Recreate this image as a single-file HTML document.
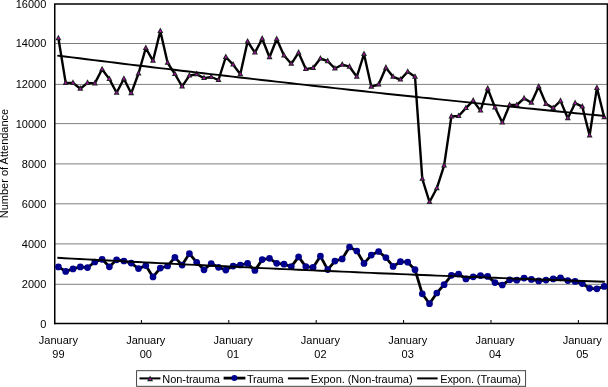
<!DOCTYPE html>
<html><head><meta charset="utf-8"><title>Attendance chart</title>
<style>html,body{margin:0;padding:0;background:#fff}svg{display:block}</style></head>
<body>
<svg width="608" height="387" viewBox="0 0 608 387" font-family="Liberation Sans, Arial, Helvetica, sans-serif" font-size="11" fill="#000">
<rect width="608" height="387" fill="#fff"/>
<line x1="55" x2="607" y1="43.50" y2="43.50" stroke="#808080" stroke-width="1"/>
<line x1="55" x2="607" y1="84.40" y2="84.40" stroke="#808080" stroke-width="1"/>
<line x1="55" x2="607" y1="123.60" y2="123.60" stroke="#808080" stroke-width="1"/>
<line x1="55" x2="607" y1="163.90" y2="163.90" stroke="#808080" stroke-width="1"/>
<line x1="55" x2="607" y1="203.80" y2="203.80" stroke="#808080" stroke-width="1"/>
<line x1="55" x2="607" y1="243.90" y2="243.90" stroke="#808080" stroke-width="1"/>
<line x1="55" x2="607" y1="284.30" y2="284.30" stroke="#808080" stroke-width="1"/>
<path d="M54.75,324.3V4H607.4V324.3" fill="none" stroke="#000" stroke-width="1.5"/>
<line x1="54" x2="608" y1="323.5" y2="323.5" stroke="#000" stroke-width="1.7"/>
<line x1="141.4" x2="141.4" y1="320" y2="323.5" stroke="#000" stroke-width="1"/>
<line x1="228.8" x2="228.8" y1="320" y2="323.5" stroke="#000" stroke-width="1"/>
<line x1="316.2" x2="316.2" y1="320" y2="323.5" stroke="#000" stroke-width="1"/>
<line x1="403.6" x2="403.6" y1="320" y2="323.5" stroke="#000" stroke-width="1"/>
<line x1="491.0" x2="491.0" y1="320" y2="323.5" stroke="#000" stroke-width="1"/>
<line x1="578.4" x2="578.4" y1="320" y2="323.5" stroke="#000" stroke-width="1"/>
<text x="46.3" y="7.9" text-anchor="end">16000</text>
<text x="46.3" y="47.4" text-anchor="end">14000</text>
<text x="46.3" y="88.3" text-anchor="end">12000</text>
<text x="46.3" y="127.5" text-anchor="end">10000</text>
<text x="46.3" y="167.8" text-anchor="end">8000</text>
<text x="46.3" y="207.7" text-anchor="end">6000</text>
<text x="46.3" y="247.8" text-anchor="end">4000</text>
<text x="46.3" y="288.2" text-anchor="end">2000</text>
<text x="46.3" y="327.5" text-anchor="end">0</text>
<text x="58.4" y="343.6" text-anchor="middle">January</text>
<text x="58.4" y="357.7" text-anchor="middle">99</text>
<text x="145.8" y="343.6" text-anchor="middle">January</text>
<text x="145.8" y="357.7" text-anchor="middle">00</text>
<text x="233.1" y="343.6" text-anchor="middle">January</text>
<text x="233.1" y="357.7" text-anchor="middle">01</text>
<text x="320.4" y="343.6" text-anchor="middle">January</text>
<text x="320.4" y="357.7" text-anchor="middle">02</text>
<text x="407.7" y="343.6" text-anchor="middle">January</text>
<text x="407.7" y="357.7" text-anchor="middle">03</text>
<text x="495.0" y="343.6" text-anchor="middle">January</text>
<text x="495.0" y="357.7" text-anchor="middle">04</text>
<text x="582.3" y="343.6" text-anchor="middle">January</text>
<text x="582.3" y="357.7" text-anchor="middle">05</text>
<text transform="translate(8.1,163.5) rotate(-90)" text-anchor="middle">Number of Attendance</text>
<polyline points="58.4,38.3 65.7,82.9 73.0,82.9 80.3,88.7 87.5,82.9 94.8,83.4 102.1,69.3 109.4,79.1 116.6,92.8 123.9,78.8 131.2,93.3 138.5,73.5 145.8,48.0 153.0,60.8 160.3,31.1 167.6,62.8 174.9,74.0 182.1,86.4 189.4,75.6 196.7,74.2 204.0,78.1 211.2,77.0 218.5,80.0 225.8,57.0 233.1,64.6 240.3,74.2 247.6,41.5 254.9,52.6 262.2,38.7 269.5,57.2 276.7,39.0 284.0,55.5 291.3,63.8 298.6,52.7 305.8,69.1 313.1,67.9 320.4,58.5 327.7,61.2 334.9,68.5 342.2,64.7 349.5,66.7 356.8,76.8 364.0,54.0 371.3,86.7 378.6,84.5 385.9,67.7 393.1,76.8 400.4,79.6 407.7,71.8 415.0,76.8 422.3,178.8 429.5,202.0 436.8,188.3 444.1,165.6 451.4,116.4 458.6,116.0 465.9,108.1 473.2,100.7 480.5,110.6 487.7,88.6 495.0,107.5 502.3,122.6 509.6,105.0 516.8,105.0 524.1,98.4 531.4,102.7 538.7,86.5 546.0,103.9 553.2,108.0 560.5,100.9 567.8,118.2 575.1,103.2 582.3,106.6 589.6,135.5 596.9,87.9 604.2,117.3" fill="none" stroke="#000" stroke-width="2.4" stroke-linejoin="round"/>
<path d="M58.4,34.7L61.4,40.3H55.4Z" fill="#222"/><path d="M58.4,37.0L59.4,39.1H57.4Z" fill="#e000e0"/>
<path d="M65.7,79.3L68.7,84.9H62.7Z" fill="#222"/><path d="M65.7,81.6L66.7,83.7H64.7Z" fill="#e000e0"/>
<path d="M73.0,79.3L76.0,84.9H70.0Z" fill="#222"/><path d="M73.0,81.6L74.0,83.7H72.0Z" fill="#e000e0"/>
<path d="M80.3,85.1L83.3,90.7H77.3Z" fill="#222"/><path d="M80.3,87.4L81.3,89.5H79.3Z" fill="#e000e0"/>
<path d="M87.5,79.3L90.5,84.9H84.5Z" fill="#222"/><path d="M87.5,81.6L88.5,83.7H86.5Z" fill="#e000e0"/>
<path d="M94.8,79.8L97.8,85.4H91.8Z" fill="#222"/><path d="M94.8,82.1L95.8,84.2H93.8Z" fill="#e000e0"/>
<path d="M102.1,65.7L105.1,71.3H99.1Z" fill="#222"/><path d="M102.1,68.0L103.1,70.1H101.1Z" fill="#e000e0"/>
<path d="M109.4,75.5L112.4,81.1H106.4Z" fill="#222"/><path d="M109.4,77.8L110.4,79.9H108.4Z" fill="#e000e0"/>
<path d="M116.6,89.2L119.6,94.8H113.6Z" fill="#222"/><path d="M116.6,91.5L117.6,93.6H115.6Z" fill="#e000e0"/>
<path d="M123.9,75.2L126.9,80.8H120.9Z" fill="#222"/><path d="M123.9,77.5L124.9,79.6H122.9Z" fill="#e000e0"/>
<path d="M131.2,89.7L134.2,95.3H128.2Z" fill="#222"/><path d="M131.2,92.0L132.2,94.1H130.2Z" fill="#e000e0"/>
<path d="M138.5,69.9L141.5,75.5H135.5Z" fill="#222"/><path d="M138.5,72.2L139.5,74.3H137.5Z" fill="#e000e0"/>
<path d="M145.8,44.4L148.8,50.0H142.8Z" fill="#222"/><path d="M145.8,46.7L146.8,48.8H144.8Z" fill="#e000e0"/>
<path d="M153.0,57.2L156.0,62.8H150.0Z" fill="#222"/><path d="M153.0,59.5L154.0,61.6H152.0Z" fill="#e000e0"/>
<path d="M160.3,27.5L163.3,33.1H157.3Z" fill="#222"/><path d="M160.3,29.8L161.3,31.9H159.3Z" fill="#e000e0"/>
<path d="M167.6,59.2L170.6,64.8H164.6Z" fill="#222"/><path d="M167.6,61.5L168.6,63.6H166.6Z" fill="#e000e0"/>
<path d="M174.9,70.4L177.9,76.0H171.9Z" fill="#222"/><path d="M174.9,72.7L175.9,74.8H173.9Z" fill="#e000e0"/>
<path d="M182.1,82.8L185.1,88.4H179.1Z" fill="#222"/><path d="M182.1,85.1L183.1,87.2H181.1Z" fill="#e000e0"/>
<path d="M189.4,72.0L192.4,77.6H186.4Z" fill="#222"/><path d="M189.4,74.3L190.4,76.4H188.4Z" fill="#e000e0"/>
<path d="M196.7,70.6L199.7,76.2H193.7Z" fill="#222"/><path d="M196.7,72.9L197.7,75.0H195.7Z" fill="#e000e0"/>
<path d="M204.0,74.5L207.0,80.1H201.0Z" fill="#222"/><path d="M204.0,76.8L205.0,78.9H203.0Z" fill="#e000e0"/>
<path d="M211.2,73.4L214.2,79.0H208.2Z" fill="#222"/><path d="M211.2,75.7L212.2,77.8H210.2Z" fill="#e000e0"/>
<path d="M218.5,76.4L221.5,82.0H215.5Z" fill="#222"/><path d="M218.5,78.7L219.5,80.8H217.5Z" fill="#e000e0"/>
<path d="M225.8,53.4L228.8,59.0H222.8Z" fill="#222"/><path d="M225.8,55.7L226.8,57.8H224.8Z" fill="#e000e0"/>
<path d="M233.1,61.0L236.1,66.6H230.1Z" fill="#222"/><path d="M233.1,63.3L234.1,65.4H232.1Z" fill="#e000e0"/>
<path d="M240.3,70.6L243.3,76.2H237.3Z" fill="#222"/><path d="M240.3,72.9L241.3,75.0H239.3Z" fill="#e000e0"/>
<path d="M247.6,37.9L250.6,43.5H244.6Z" fill="#222"/><path d="M247.6,40.2L248.6,42.3H246.6Z" fill="#e000e0"/>
<path d="M254.9,49.0L257.9,54.6H251.9Z" fill="#222"/><path d="M254.9,51.3L255.9,53.4H253.9Z" fill="#e000e0"/>
<path d="M262.2,35.1L265.2,40.7H259.2Z" fill="#222"/><path d="M262.2,37.4L263.2,39.5H261.2Z" fill="#e000e0"/>
<path d="M269.5,53.6L272.5,59.2H266.5Z" fill="#222"/><path d="M269.5,55.9L270.5,58.0H268.5Z" fill="#e000e0"/>
<path d="M276.7,35.4L279.7,41.0H273.7Z" fill="#222"/><path d="M276.7,37.7L277.7,39.8H275.7Z" fill="#e000e0"/>
<path d="M284.0,51.9L287.0,57.5H281.0Z" fill="#222"/><path d="M284.0,54.2L285.0,56.3H283.0Z" fill="#e000e0"/>
<path d="M291.3,60.2L294.3,65.8H288.3Z" fill="#222"/><path d="M291.3,62.5L292.3,64.6H290.3Z" fill="#e000e0"/>
<path d="M298.6,49.1L301.6,54.7H295.6Z" fill="#222"/><path d="M298.6,51.4L299.6,53.5H297.6Z" fill="#e000e0"/>
<path d="M305.8,65.5L308.8,71.1H302.8Z" fill="#222"/><path d="M305.8,67.8L306.8,69.9H304.8Z" fill="#e000e0"/>
<path d="M313.1,64.3L316.1,69.9H310.1Z" fill="#222"/><path d="M313.1,66.6L314.1,68.7H312.1Z" fill="#e000e0"/>
<path d="M320.4,54.9L323.4,60.5H317.4Z" fill="#222"/><path d="M320.4,57.2L321.4,59.3H319.4Z" fill="#e000e0"/>
<path d="M327.7,57.6L330.7,63.2H324.7Z" fill="#222"/><path d="M327.7,59.9L328.7,62.0H326.7Z" fill="#e000e0"/>
<path d="M334.9,64.9L337.9,70.5H331.9Z" fill="#222"/><path d="M334.9,67.2L335.9,69.3H333.9Z" fill="#e000e0"/>
<path d="M342.2,61.1L345.2,66.7H339.2Z" fill="#222"/><path d="M342.2,63.4L343.2,65.5H341.2Z" fill="#e000e0"/>
<path d="M349.5,63.1L352.5,68.7H346.5Z" fill="#222"/><path d="M349.5,65.4L350.5,67.5H348.5Z" fill="#e000e0"/>
<path d="M356.8,73.2L359.8,78.8H353.8Z" fill="#222"/><path d="M356.8,75.5L357.8,77.6H355.8Z" fill="#e000e0"/>
<path d="M364.0,50.4L367.0,56.0H361.0Z" fill="#222"/><path d="M364.0,52.7L365.0,54.8H363.0Z" fill="#e000e0"/>
<path d="M371.3,83.1L374.3,88.7H368.3Z" fill="#222"/><path d="M371.3,85.4L372.3,87.5H370.3Z" fill="#e000e0"/>
<path d="M378.6,80.9L381.6,86.5H375.6Z" fill="#222"/><path d="M378.6,83.2L379.6,85.3H377.6Z" fill="#e000e0"/>
<path d="M385.9,64.1L388.9,69.7H382.9Z" fill="#222"/><path d="M385.9,66.4L386.9,68.5H384.9Z" fill="#e000e0"/>
<path d="M393.1,73.2L396.1,78.8H390.1Z" fill="#222"/><path d="M393.1,75.5L394.1,77.6H392.1Z" fill="#e000e0"/>
<path d="M400.4,76.0L403.4,81.6H397.4Z" fill="#222"/><path d="M400.4,78.3L401.4,80.4H399.4Z" fill="#e000e0"/>
<path d="M407.7,68.2L410.7,73.8H404.7Z" fill="#222"/><path d="M407.7,70.5L408.7,72.6H406.7Z" fill="#e000e0"/>
<path d="M415.0,73.2L418.0,78.8H412.0Z" fill="#222"/><path d="M415.0,75.5L416.0,77.6H414.0Z" fill="#e000e0"/>
<path d="M422.3,175.2L425.3,180.8H419.3Z" fill="#222"/><path d="M422.3,177.5L423.3,179.6H421.3Z" fill="#e000e0"/>
<path d="M429.5,198.4L432.5,204.0H426.5Z" fill="#222"/><path d="M429.5,200.7L430.5,202.8H428.5Z" fill="#e000e0"/>
<path d="M436.8,184.7L439.8,190.3H433.8Z" fill="#222"/><path d="M436.8,187.0L437.8,189.1H435.8Z" fill="#e000e0"/>
<path d="M444.1,162.0L447.1,167.6H441.1Z" fill="#222"/><path d="M444.1,164.3L445.1,166.4H443.1Z" fill="#e000e0"/>
<path d="M451.4,112.8L454.4,118.4H448.4Z" fill="#222"/><path d="M451.4,115.1L452.4,117.2H450.4Z" fill="#e000e0"/>
<path d="M458.6,112.4L461.6,118.0H455.6Z" fill="#222"/><path d="M458.6,114.7L459.6,116.8H457.6Z" fill="#e000e0"/>
<path d="M465.9,104.5L468.9,110.1H462.9Z" fill="#222"/><path d="M465.9,106.8L466.9,108.9H464.9Z" fill="#e000e0"/>
<path d="M473.2,97.1L476.2,102.7H470.2Z" fill="#222"/><path d="M473.2,99.4L474.2,101.5H472.2Z" fill="#e000e0"/>
<path d="M480.5,107.0L483.5,112.6H477.5Z" fill="#222"/><path d="M480.5,109.3L481.5,111.4H479.5Z" fill="#e000e0"/>
<path d="M487.7,85.0L490.7,90.6H484.7Z" fill="#222"/><path d="M487.7,87.3L488.7,89.4H486.7Z" fill="#e000e0"/>
<path d="M495.0,103.9L498.0,109.5H492.0Z" fill="#222"/><path d="M495.0,106.2L496.0,108.3H494.0Z" fill="#e000e0"/>
<path d="M502.3,119.0L505.3,124.6H499.3Z" fill="#222"/><path d="M502.3,121.3L503.3,123.4H501.3Z" fill="#e000e0"/>
<path d="M509.6,101.4L512.6,107.0H506.6Z" fill="#222"/><path d="M509.6,103.7L510.6,105.8H508.6Z" fill="#e000e0"/>
<path d="M516.8,101.4L519.8,107.0H513.8Z" fill="#222"/><path d="M516.8,103.7L517.8,105.8H515.8Z" fill="#e000e0"/>
<path d="M524.1,94.8L527.1,100.4H521.1Z" fill="#222"/><path d="M524.1,97.1L525.1,99.2H523.1Z" fill="#e000e0"/>
<path d="M531.4,99.1L534.4,104.7H528.4Z" fill="#222"/><path d="M531.4,101.4L532.4,103.5H530.4Z" fill="#e000e0"/>
<path d="M538.7,82.9L541.7,88.5H535.7Z" fill="#222"/><path d="M538.7,85.2L539.7,87.3H537.7Z" fill="#e000e0"/>
<path d="M546.0,100.3L549.0,105.9H543.0Z" fill="#222"/><path d="M546.0,102.6L547.0,104.7H545.0Z" fill="#e000e0"/>
<path d="M553.2,104.4L556.2,110.0H550.2Z" fill="#222"/><path d="M553.2,106.7L554.2,108.8H552.2Z" fill="#e000e0"/>
<path d="M560.5,97.3L563.5,102.9H557.5Z" fill="#222"/><path d="M560.5,99.6L561.5,101.7H559.5Z" fill="#e000e0"/>
<path d="M567.8,114.6L570.8,120.2H564.8Z" fill="#222"/><path d="M567.8,116.9L568.8,119.0H566.8Z" fill="#e000e0"/>
<path d="M575.1,99.6L578.1,105.2H572.1Z" fill="#222"/><path d="M575.1,101.9L576.1,104.0H574.1Z" fill="#e000e0"/>
<path d="M582.3,103.0L585.3,108.6H579.3Z" fill="#222"/><path d="M582.3,105.3L583.3,107.4H581.3Z" fill="#e000e0"/>
<path d="M589.6,131.9L592.6,137.5H586.6Z" fill="#222"/><path d="M589.6,134.2L590.6,136.3H588.6Z" fill="#e000e0"/>
<path d="M596.9,84.3L599.9,89.9H593.9Z" fill="#222"/><path d="M596.9,86.6L597.9,88.7H595.9Z" fill="#e000e0"/>
<path d="M604.2,113.7L607.2,119.3H601.2Z" fill="#222"/><path d="M604.2,116.0L605.2,118.1H603.2Z" fill="#e000e0"/>
<polyline points="58.4,266.9 65.7,271.4 73.0,268.9 80.3,266.9 87.5,267.6 94.8,262.0 102.1,259.3 109.4,266.8 116.6,259.8 123.9,261.0 131.2,263.1 138.5,268.6 145.8,265.6 153.0,276.9 160.3,268.1 167.6,266.0 174.9,257.4 182.1,265.1 189.4,253.6 196.7,262.3 204.0,269.8 211.2,263.5 218.5,267.3 225.8,270.1 233.1,266.1 240.3,265.0 247.6,263.4 254.9,270.4 262.2,259.6 269.5,258.3 276.7,263.3 284.0,264.2 291.3,266.6 298.6,256.8 305.8,266.6 313.1,267.4 320.4,256.2 327.7,269.6 334.9,261.1 342.2,258.9 349.5,247.0 356.8,251.0 364.0,263.4 371.3,255.1 378.6,251.5 385.9,257.6 393.1,266.4 400.4,261.7 407.7,262.2 415.0,269.7 422.3,293.8 429.5,303.7 436.8,293.0 444.1,284.7 451.4,275.3 458.6,274.0 465.9,278.9 473.2,276.8 480.5,275.6 487.7,276.4 495.0,282.6 502.3,285.0 509.6,279.8 516.8,280.2 524.1,278.1 531.4,279.4 538.7,280.9 546.0,280.1 553.2,278.9 560.5,277.8 567.8,280.6 575.1,281.4 582.3,283.6 589.6,288.3 596.9,288.8 604.2,286.4" fill="none" stroke="#000" stroke-width="2.8" stroke-linejoin="round"/>
<circle cx="58.4" cy="266.9" r="3.35" fill="#00008c"/>
<circle cx="65.7" cy="271.4" r="3.35" fill="#00008c"/>
<circle cx="73.0" cy="268.9" r="3.35" fill="#00008c"/>
<circle cx="80.3" cy="266.9" r="3.35" fill="#00008c"/>
<circle cx="87.5" cy="267.6" r="3.35" fill="#00008c"/>
<circle cx="94.8" cy="262.0" r="3.35" fill="#00008c"/>
<circle cx="102.1" cy="259.3" r="3.35" fill="#00008c"/>
<circle cx="109.4" cy="266.8" r="3.35" fill="#00008c"/>
<circle cx="116.6" cy="259.8" r="3.35" fill="#00008c"/>
<circle cx="123.9" cy="261.0" r="3.35" fill="#00008c"/>
<circle cx="131.2" cy="263.1" r="3.35" fill="#00008c"/>
<circle cx="138.5" cy="268.6" r="3.35" fill="#00008c"/>
<circle cx="145.8" cy="265.6" r="3.35" fill="#00008c"/>
<circle cx="153.0" cy="276.9" r="3.35" fill="#00008c"/>
<circle cx="160.3" cy="268.1" r="3.35" fill="#00008c"/>
<circle cx="167.6" cy="266.0" r="3.35" fill="#00008c"/>
<circle cx="174.9" cy="257.4" r="3.35" fill="#00008c"/>
<circle cx="182.1" cy="265.1" r="3.35" fill="#00008c"/>
<circle cx="189.4" cy="253.6" r="3.35" fill="#00008c"/>
<circle cx="196.7" cy="262.3" r="3.35" fill="#00008c"/>
<circle cx="204.0" cy="269.8" r="3.35" fill="#00008c"/>
<circle cx="211.2" cy="263.5" r="3.35" fill="#00008c"/>
<circle cx="218.5" cy="267.3" r="3.35" fill="#00008c"/>
<circle cx="225.8" cy="270.1" r="3.35" fill="#00008c"/>
<circle cx="233.1" cy="266.1" r="3.35" fill="#00008c"/>
<circle cx="240.3" cy="265.0" r="3.35" fill="#00008c"/>
<circle cx="247.6" cy="263.4" r="3.35" fill="#00008c"/>
<circle cx="254.9" cy="270.4" r="3.35" fill="#00008c"/>
<circle cx="262.2" cy="259.6" r="3.35" fill="#00008c"/>
<circle cx="269.5" cy="258.3" r="3.35" fill="#00008c"/>
<circle cx="276.7" cy="263.3" r="3.35" fill="#00008c"/>
<circle cx="284.0" cy="264.2" r="3.35" fill="#00008c"/>
<circle cx="291.3" cy="266.6" r="3.35" fill="#00008c"/>
<circle cx="298.6" cy="256.8" r="3.35" fill="#00008c"/>
<circle cx="305.8" cy="266.6" r="3.35" fill="#00008c"/>
<circle cx="313.1" cy="267.4" r="3.35" fill="#00008c"/>
<circle cx="320.4" cy="256.2" r="3.35" fill="#00008c"/>
<circle cx="327.7" cy="269.6" r="3.35" fill="#00008c"/>
<circle cx="334.9" cy="261.1" r="3.35" fill="#00008c"/>
<circle cx="342.2" cy="258.9" r="3.35" fill="#00008c"/>
<circle cx="349.5" cy="247.0" r="3.35" fill="#00008c"/>
<circle cx="356.8" cy="251.0" r="3.35" fill="#00008c"/>
<circle cx="364.0" cy="263.4" r="3.35" fill="#00008c"/>
<circle cx="371.3" cy="255.1" r="3.35" fill="#00008c"/>
<circle cx="378.6" cy="251.5" r="3.35" fill="#00008c"/>
<circle cx="385.9" cy="257.6" r="3.35" fill="#00008c"/>
<circle cx="393.1" cy="266.4" r="3.35" fill="#00008c"/>
<circle cx="400.4" cy="261.7" r="3.35" fill="#00008c"/>
<circle cx="407.7" cy="262.2" r="3.35" fill="#00008c"/>
<circle cx="415.0" cy="269.7" r="3.35" fill="#00008c"/>
<circle cx="422.3" cy="293.8" r="3.35" fill="#00008c"/>
<circle cx="429.5" cy="303.7" r="3.35" fill="#00008c"/>
<circle cx="436.8" cy="293.0" r="3.35" fill="#00008c"/>
<circle cx="444.1" cy="284.7" r="3.35" fill="#00008c"/>
<circle cx="451.4" cy="275.3" r="3.35" fill="#00008c"/>
<circle cx="458.6" cy="274.0" r="3.35" fill="#00008c"/>
<circle cx="465.9" cy="278.9" r="3.35" fill="#00008c"/>
<circle cx="473.2" cy="276.8" r="3.35" fill="#00008c"/>
<circle cx="480.5" cy="275.6" r="3.35" fill="#00008c"/>
<circle cx="487.7" cy="276.4" r="3.35" fill="#00008c"/>
<circle cx="495.0" cy="282.6" r="3.35" fill="#00008c"/>
<circle cx="502.3" cy="285.0" r="3.35" fill="#00008c"/>
<circle cx="509.6" cy="279.8" r="3.35" fill="#00008c"/>
<circle cx="516.8" cy="280.2" r="3.35" fill="#00008c"/>
<circle cx="524.1" cy="278.1" r="3.35" fill="#00008c"/>
<circle cx="531.4" cy="279.4" r="3.35" fill="#00008c"/>
<circle cx="538.7" cy="280.9" r="3.35" fill="#00008c"/>
<circle cx="546.0" cy="280.1" r="3.35" fill="#00008c"/>
<circle cx="553.2" cy="278.9" r="3.35" fill="#00008c"/>
<circle cx="560.5" cy="277.8" r="3.35" fill="#00008c"/>
<circle cx="567.8" cy="280.6" r="3.35" fill="#00008c"/>
<circle cx="575.1" cy="281.4" r="3.35" fill="#00008c"/>
<circle cx="582.3" cy="283.6" r="3.35" fill="#00008c"/>
<circle cx="589.6" cy="288.3" r="3.35" fill="#00008c"/>
<circle cx="596.9" cy="288.8" r="3.35" fill="#00008c"/>
<circle cx="604.2" cy="286.4" r="3.35" fill="#00008c"/>
<polyline points="57.3,55.6 64.6,56.5 71.9,57.4 79.2,58.3 86.5,59.2 93.8,60.1 101.1,61.0 108.4,61.9 115.7,62.8 123.0,63.7 130.3,64.6 137.6,65.5 144.9,66.3 152.2,67.2 159.5,68.1 166.8,68.9 174.1,69.8 181.4,70.7 188.7,71.5 196.0,72.4 203.3,73.2 210.6,74.1 217.9,74.9 225.2,75.8 232.5,76.6 239.8,77.5 247.1,78.3 254.4,79.1 261.7,80.0 269.0,80.8 276.3,81.6 283.6,82.4 290.9,83.3 298.2,84.1 305.5,84.9 312.8,85.7 320.1,86.5 327.4,87.3 334.7,88.1 342.0,88.9 349.3,89.7 356.6,90.5 363.9,91.3 371.2,92.1 378.5,92.9 385.8,93.7 393.1,94.5 400.4,95.2 407.7,96.0 415.0,96.8 422.3,97.6 429.6,98.3 436.9,99.1 444.2,99.9 451.5,100.6 458.8,101.4 466.1,102.1 473.4,102.9 480.7,103.6 488.0,104.4 495.3,105.1 502.6,105.9 509.9,106.6 517.2,107.3 524.5,108.1 531.8,108.8 539.1,109.5 546.4,110.3 553.7,111.0 561.0,111.7 568.3,112.4 575.6,113.2 582.9,113.9 590.2,114.6 597.5,115.3 604.8,116.0" fill="none" stroke="#000" stroke-width="1.95"/>
<polyline points="57.3,257.8 64.6,258.2 71.9,258.6 79.2,259.0 86.5,259.4 93.8,259.8 101.1,260.1 108.4,260.5 115.7,260.9 123.0,261.3 130.3,261.7 137.6,262.0 144.9,262.4 152.2,262.8 159.5,263.1 166.8,263.5 174.1,263.9 181.4,264.2 188.7,264.6 196.0,264.9 203.3,265.3 210.6,265.7 217.9,266.0 225.2,266.3 232.5,266.7 239.8,267.0 247.1,267.4 254.4,267.7 261.7,268.1 269.0,268.4 276.3,268.7 283.6,269.1 290.9,269.4 298.2,269.7 305.5,270.0 312.8,270.4 320.1,270.7 327.4,271.0 334.7,271.3 342.0,271.6 349.3,271.9 356.6,272.3 363.9,272.6 371.2,272.9 378.5,273.2 385.8,273.5 393.1,273.8 400.4,274.1 407.7,274.4 415.0,274.7 422.3,275.0 429.6,275.3 436.9,275.6 444.2,275.9 451.5,276.1 458.8,276.4 466.1,276.7 473.4,277.0 480.7,277.3 488.0,277.6 495.3,277.8 502.6,278.1 509.9,278.4 517.2,278.7 524.5,278.9 531.8,279.2 539.1,279.5 546.4,279.7 553.7,280.0 561.0,280.3 568.3,280.5 575.6,280.8 582.9,281.0 590.2,281.3 597.5,281.5 604.8,281.8" fill="none" stroke="#000" stroke-width="1.95"/>
<rect x="136.6" y="370.7" width="389" height="15.6" fill="#fff" stroke="#333" stroke-width="0.9"/>
<line x1="139.5" x2="160.4" y1="378.4" y2="378.4" stroke="#000" stroke-width="2"/>
<path d="M150.1,375.6L153.1,381.2H147.1Z" fill="#222"/><path d="M150.1,377.9L151.1,380.0H149.1Z" fill="#e000e0"/>
<text x="162.3" y="382.6" textLength="57.6">Non-trauma</text>
<line x1="223.6" x2="245.4" y1="378.1" y2="378.1" stroke="#000" stroke-width="2.8"/>
<circle cx="234.4" cy="378.1" r="3.0" fill="#00008c"/>
<text x="246.9" y="382.6" textLength="36.6">Trauma</text>
<line x1="287.9" x2="308.9" y1="378.4" y2="378.4" stroke="#000" stroke-width="2"/>
<text x="310.8" y="382.6" textLength="101.8">Expon. (Non-trauma)</text>
<line x1="417.1" x2="437.6" y1="378.4" y2="378.4" stroke="#000" stroke-width="2"/>
<text x="440.2" y="382.6" textLength="80.8">Expon. (Trauma)</text>
</svg>
</body></html>
